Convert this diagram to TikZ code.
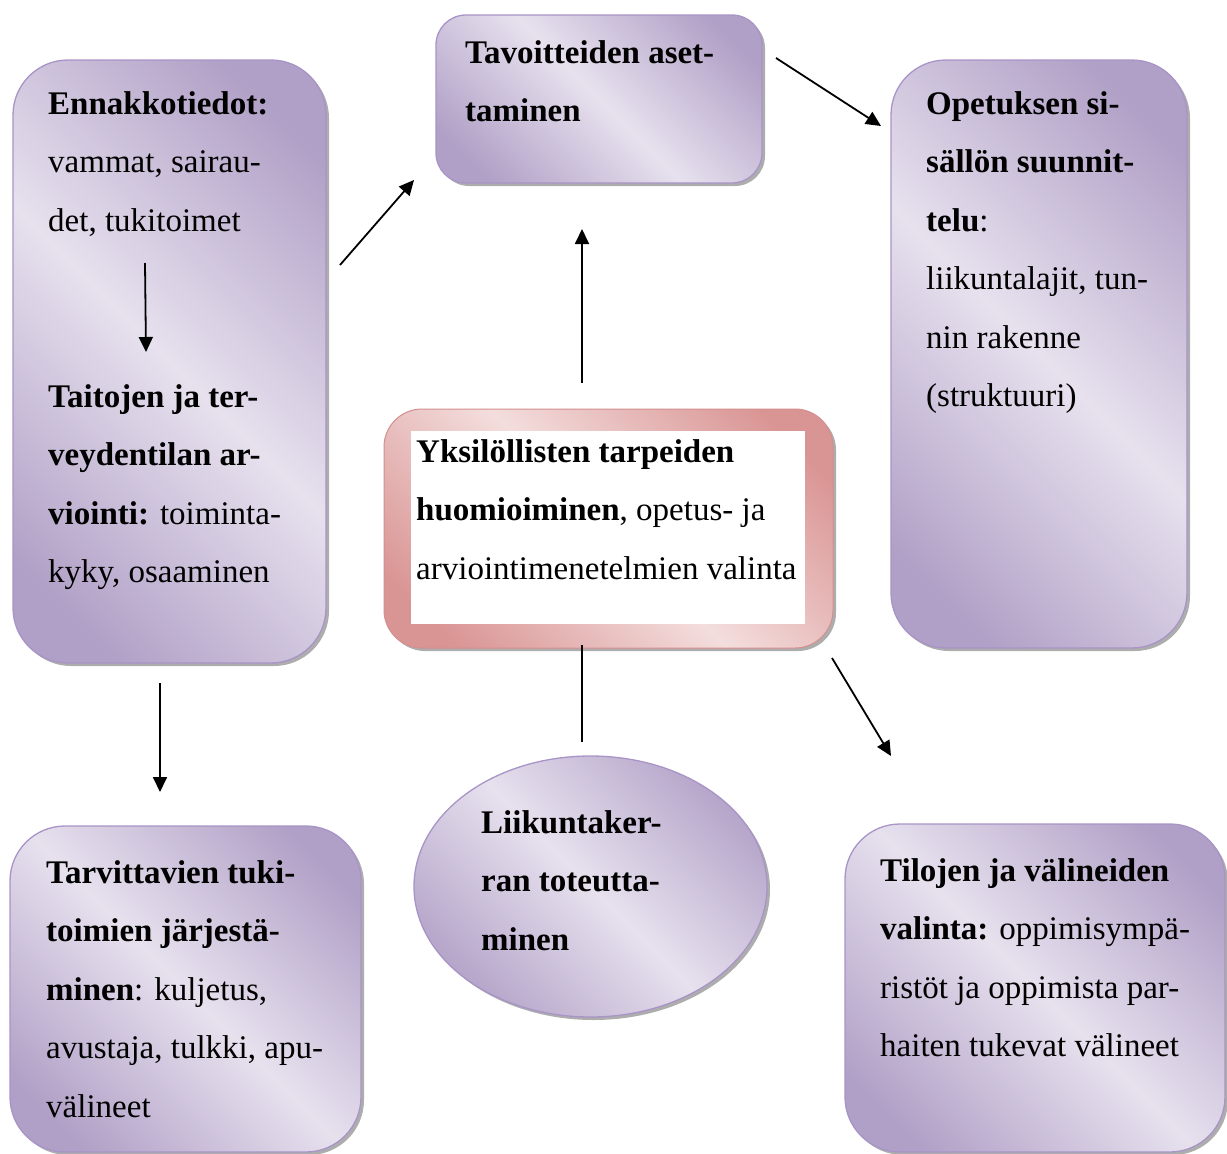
\documentclass[tikz,border=0pt]{standalone}
\usepackage{fontspec}
\setmainfont{Liberation Serif}
\usetikzlibrary{arrows.meta,shadows,shapes.geometric}
\definecolor{pdark}{HTML}{B09FC6}
\definecolor{plight}{HTML}{E7E1EE}
\definecolor{pborder}{HTML}{A894C6}
\definecolor{kdark}{HTML}{D99594}
\definecolor{klight}{HTML}{F3DEDD}
\definecolor{kborder}{HTML}{D48F8E}
\pgfdeclarehorizontalshading{purpsh}{100bp}{color(0bp)=(pdark); color(22bp)=(pdark); color(50bp)=(plight); color(78bp)=(pdark); color(100bp)=(pdark)}
\pgfdeclarehorizontalshading{pinksh}{100bp}{color(0bp)=(kdark); color(22bp)=(kdark); color(50bp)=(klight); color(78bp)=(kdark); color(100bp)=(kdark)}
\tikzset{
  pbox/.style={draw=pborder, line width=1.3pt, shading=purpsh, shading angle=45,
    rounded corners=#1, inner sep=0pt,
    drop shadow={shadow xshift=3pt, shadow yshift=-3pt, fill=black!40, opacity=0.8}},
  pell/.style={ellipse, draw=pborder, line width=1.3pt, shading=purpsh, shading angle=45,
    inner sep=0pt,
    drop shadow={shadow xshift=3pt, shadow yshift=-3pt, fill=black!40, opacity=0.8}},
  kbox/.style={draw=kborder, line width=1pt, shading=pinksh, shading angle=45,
    rounded corners=38pt, inner sep=0pt,
    drop shadow={shadow xshift=3pt, shadow yshift=-3pt, fill=black!40, opacity=0.8}},
  txt/.style={anchor=north west, inner sep=0pt, align=left,
    font=\fontsize{33}{58.5}\selectfont},
  arr/.style={-{Triangle[length=15pt,width=14pt]}, line width=1.8pt},
  plain/.style={line width=1.6pt}
}
\begin{document}
\begin{tikzpicture}[x=1pt,y=-1pt]
\useasboundingbox (0,0) rectangle (1227,1154);
% boxes
\node[pbox=55pt, minimum width=313pt, minimum height=603pt] (boxA) at (169.5,361.5) {};
\node[pbox=30pt, minimum width=326pt, minimum height=168pt] (boxB) at (599,99) {};
\node[pbox=55pt, minimum width=296pt, minimum height=588pt] (boxC) at (1039,354) {};
\node[kbox, minimum width=449pt, minimum height=239pt] (boxD) at (608.5,528.5) {};
\node[fill=white, inner sep=0pt, minimum width=394pt, minimum height=193pt] (boxDin) at (608,527.5) {};
\node[pell, minimum width=353pt, minimum height=261pt] (boxE) at (590.5,886.5) {};
\node[pbox=55pt, minimum width=351pt, minimum height=326pt] (boxF) at (185.5,989) {};
\node[pbox=55pt, minimum width=380pt, minimum height=328pt] (boxG) at (1035,988) {};
% texts
\node[txt] (tA1) at (48,73) {\strut\textbf{Ennakkotiedot:}\\vammat, sairau-\\det, tukitoimet};
\node[txt] (tA2) at (48,366) {\strut\textbf{Taitojen ja ter-}\\\textbf{veydentilan ar-}\\\textbf{viointi:} toiminta-\\kyky, osaaminen};
\node[txt] (tB) at (465,22) {\strut\textbf{Tavoitteiden aset-}\\\textbf{taminen}};
\node[txt] (tC) at (926,73) {\strut\textbf{Opetuksen si-}\\\textbf{sällön suunnit-}\\\textbf{telu}:\\liikuntalajit, tun-\\nin rakenne\\(struktuuri)};
\node[txt] (tD) at (416,421) {\strut\textbf{Yksilöllisten tarpeiden}\\\textbf{huomioiminen}, opetus- ja\\arviointimenetelmien valinta};
\node[txt] (tE) at (481,792) {\strut\textbf{Liikuntaker-}\\\textbf{ran toteutta-}\\\textbf{minen}};
\node[txt] (tF) at (46,842) {\strut\textbf{Tarvittavien tuki-}\\\textbf{toimien järjestä-}\\\textbf{minen}: kuljetus,\\avustaja, tulkki, apu-\\välineet};
\node[txt] (tG) at (880,840) {\strut\textbf{Tilojen ja välineiden}\\\textbf{valinta:} oppimisympä-\\ristöt ja oppimista par-\\haiten tukevat välineet};
% connector end points
\coordinate (a1) at (145,263);  \coordinate (a2) at (146,352);
\coordinate (ab1) at (340,265); \coordinate (ab2) at (414,180);
\coordinate (bc1) at (776,58);  \coordinate (bc2) at (881,126);
\coordinate (db1) at (582,383); \coordinate (db2) at (582,229);
\coordinate (de1) at (582,645); \coordinate (de2) at (582,742);
\coordinate (af1) at (160,683); \coordinate (af2) at (160,792);
\coordinate (dg1) at (832,658); \coordinate (dg2) at (891,756);
\draw[arr] (a1) -- (a2);
\draw[arr] (ab1) -- (ab2);
\draw[arr] (bc1) -- (bc2);
\draw[arr] (db1) -- (db2);
\draw[plain] (de1) -- (de2);
\draw[arr] (af1) -- (af2);
\draw[arr] (dg1) -- (dg2);
\end{tikzpicture}
\end{document}
